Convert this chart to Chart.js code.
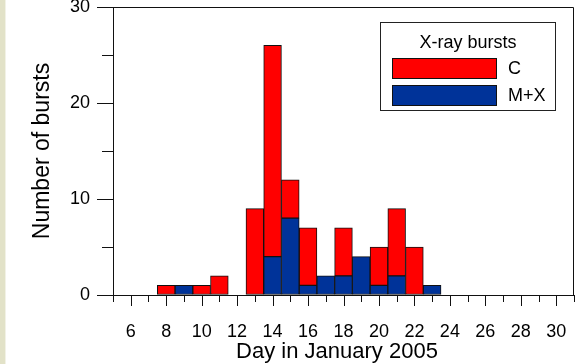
<!DOCTYPE html>
<html>
<head>
<meta charset="utf-8">
<title>X-ray bursts, January 2005</title>
<script src="https://cdn.jsdelivr.net/npm/chart.js@4/dist/chart.umd.min.js"></script>
<style>
  html, body { margin: 0; padding: 0; }
  body {
    width: 581px;
    height: 364px;
    background: linear-gradient(to right, #e2e2c8 0, #e2e2c8 5px, #f2f2e6 5px, #f2f2e6 6px, #fff 6px);
  }
  #chart-box { position: relative; width: 581px; height: 364px; }
</style>
</head>
<body>
<div id="chart-box"><canvas id="bursts-chart"></canvas></div>
<script>
// daily burst counts
const days     = [8, 9, 10, 11, 12, 13, 14, 15, 16, 17, 18, 19, 20, 21, 22, 23];
const cBursts  = [1, 0, 1, 2, 0, 9, 22, 4, 6, 0, 5, 0, 4, 7, 5, 0];
const mxBursts = [0, 1, 0, 0, 0, 0, 4, 8, 1, 2, 2, 4, 1, 2, 0, 1];

const xLabels = [6, 8, 10, 12, 14, 16, 18, 20, 22, 24, 26, 28, 30];
const yLabels = [0, 10, 20, 30];

const FONT = "'Liberation Sans', Arial, sans-serif";
const X_TITLE = 'Day in January 2005';

function toPoints(values) {
  return days.map((d, i) => ({ x: d, y: values[i] }));
}

// tick marks, top/right frame, x title and the boxed legend
const framePlugin = {
  id: 'framePlugin',
  afterDraw(chart) {
    const { ctx, chartArea: a, scales: { x, y } } = chart;
    ctx.save();
    ctx.strokeStyle = '#111';
    ctx.lineWidth = 1;
    ctx.beginPath();
    for (let d = x.min; d <= x.max; d++) {
      const px = Math.round(x.getPixelForValue(d)) + 0.5;
      const len = d % 2 ? 7 : 11;
      ctx.moveTo(px, a.bottom);
      ctx.lineTo(px, a.bottom + len);
    }
    for (let v = y.min; v <= y.max; v += 5) {
      const py = Math.round(y.getPixelForValue(v)) + 0.5;
      const len = v % 10 ? 11 : 16;
      ctx.moveTo(a.left - len, py);
      ctx.lineTo(a.left, py);
    }
    const top = Math.round(a.top) + 0.5;
    const right = Math.round(a.right) - 0.5;
    ctx.moveTo(a.left, top);
    ctx.lineTo(right, top);
    ctx.lineTo(right, Math.round(a.bottom));
    ctx.stroke();

    ctx.fillStyle = '#000';
    ctx.textBaseline = 'middle';
    ctx.textAlign = 'center';
    ctx.font = '22px ' + FONT;
    ctx.fillText(X_TITLE, 337, 352);

    // legend box
    ctx.fillStyle = '#fff';
    ctx.fillRect(380.5, 22.5, 175, 88);
    ctx.strokeStyle = '#222';
    ctx.strokeRect(380.5, 22.5, 175, 88);
    ctx.fillStyle = '#000';
    ctx.font = '18px ' + FONT;
    ctx.fillText('X-ray bursts', 468, 43);
    ctx.textAlign = 'left';
    const items = chart.data.datasets.slice().reverse();
    items.forEach((ds, i) => {
      const sy = 58 + i * 27;
      ctx.fillStyle = ds.backgroundColor;
      ctx.fillRect(392, sy, 105, 21);
      ctx.strokeStyle = '#111';
      ctx.strokeRect(392.5, sy + 0.5, 104, 20);
      ctx.fillStyle = '#000';
      ctx.fillText(ds.label, 508, sy + 11);
    });
    ctx.restore();
  }
};

const ctx = document.getElementById('bursts-chart').getContext('2d');
new Chart(ctx, {
  type: 'bar',
  data: {
    datasets: [
      {
        label: 'M+X',
        data: toPoints(mxBursts),
        backgroundColor: '#003399',
        borderColor: '#111',
        borderWidth: 1,
        borderSkipped: false
      },
      {
        label: 'C',
        data: toPoints(cBursts),
        backgroundColor: '#ff0000',
        borderColor: '#111',
        borderWidth: 1,
        borderSkipped: false
      }
    ]
  },
  options: {
    responsive: true,
    maintainAspectRatio: false,
    animation: false,
    barPercentage: 1,
    categoryPercentage: 1,
    layout: { padding: { left: 0, right: 7, top: 7, bottom: 0 } },
    plugins: {
      legend: { display: false },
      tooltip: { enabled: false }
    },
    scales: {
      x: {
        type: 'linear',
        stacked: true,
        offset: false,
        min: 5,
        max: 31,
        grid: { offset: false, drawOnChartArea: false, tickLength: 12, tickColor: 'rgba(0,0,0,0)' },
        border: { color: '#111' },
        ticks: {
          stepSize: 1,
          autoSkip: false,
          maxRotation: 0,
          padding: 14,
          color: '#000',
          font: { family: FONT, size: 18 },
          callback: v => xLabels.includes(v) ? String(v) : ''
        },
        afterFit(scale) {
          scale.height = 69;
          scale.paddingLeft = 0;
          scale.paddingRight = 0;
        }
      },
      y: {
        stacked: true,
        min: 0,
        max: 30,
        grid: { drawOnChartArea: false, tickLength: 16, tickColor: 'rgba(0,0,0,0)' },
        border: { color: '#111' },
        ticks: {
          stepSize: 5,
          padding: 7,
          color: '#000',
          font: { family: FONT, size: 18 },
          callback: v => yLabels.includes(v) ? String(v) : ''
        },
        title: {
          display: true,
          text: 'Number of bursts',
          color: '#000',
          font: { family: FONT, size: 23 },
          padding: { top: 29, bottom: 0 }
        },
        afterFit(scale) {
          scale.width = 113;
          scale.paddingTop = 0;
          scale.paddingBottom = 0;
        }
      }
    }
  },
  plugins: [framePlugin]
});
</script>
</body>
</html>
